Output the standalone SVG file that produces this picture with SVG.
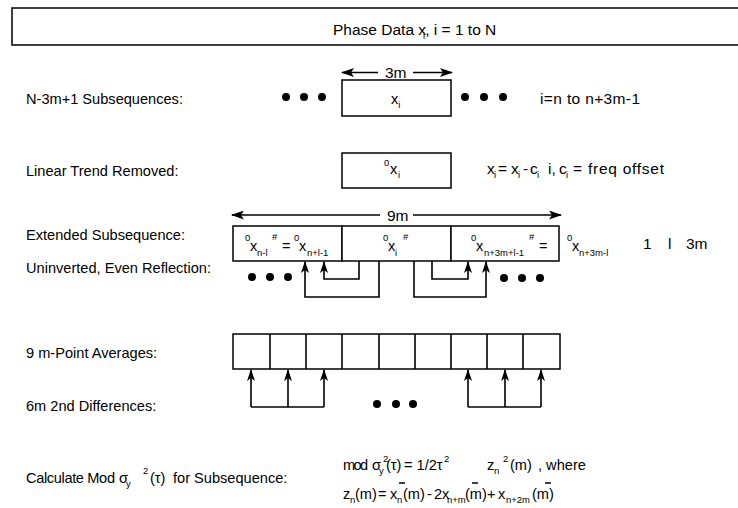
<svg xmlns="http://www.w3.org/2000/svg" width="738" height="508" viewBox="0 0 738 508">
<defs>
<style>
.t{font-family:"Liberation Sans",Arial,sans-serif;font-size:14.6px;fill:#000}
.r{font-size:15.5px}
.s{font-size:9.5px}
.box{fill:#fff;stroke:#000;stroke-width:1.5}
.ln{fill:none;stroke:#000;stroke-width:1.6}
.dot{fill:#000}
</style>
<marker id="ah" markerWidth="13" markerHeight="9" refX="12" refY="4.5" orient="auto" markerUnits="userSpaceOnUse"><path d="M0,0 L13,4.5 L0,9 L3,4.5 Z" fill="#000"/></marker>
<marker id="au" markerWidth="12" markerHeight="8" refX="11" refY="4" orient="auto" markerUnits="userSpaceOnUse"><path d="M0,0 L12,4 L0,8 L3,4 Z" fill="#000"/></marker>
</defs>
<rect width="738" height="508" fill="#fff"/>

<g id="phase-data">
<rect class="box" x="12" y="8" width="730" height="37"/>
<text class="t r" x="333" y="35">Phase Data x<tspan class="s" dx="-3" dy="4">i</tspan><tspan dy="-4">, i = 1 to N</tspan></text>
</g>

<g id="labels">
<text class="t" x="26" y="104">N-3m+1 Subsequences:</text>
<text class="t" x="26" y="176">Linear Trend Removed:</text>
<text class="t" x="26" y="240">Extended Subsequence:</text>
<text class="t" x="26" y="273">Uninverted, Even Reflection:</text>
<text class="t" x="26" y="358">9 m-Point Averages:</text>
<text class="t" x="26" y="411">6m 2nd Differences:</text>
<text class="t"><tspan x="26" y="483" textLength="89">Calculate Mod</tspan><tspan x="119">σ</tspan><tspan class="s" x="126" y="487">y</tspan><tspan class="s" x="143" y="474">2</tspan><tspan x="150" y="483">(τ)</tspan><tspan x="173">for Subsequence:</tspan></text>
</g>

<g id="subsequence">
<rect class="box" x="342" y="80" width="109" height="36"/>
<text class="t" x="391" y="104">x<tspan class="s" dy="4">i</tspan></text>
<text class="t r" x="540" y="104" textLength="100">i=n to n+3m-1</text>
</g>

<g id="trend-removed">
<rect class="box" x="342" y="153" width="109" height="35"/>
<text class="t"><tspan class="s" x="384" y="166">0</tspan><tspan x="390" y="174">x</tspan><tspan class="s" x="398" y="178">i</tspan></text>
<text class="t r"><tspan x="487" y="174">x</tspan><tspan class="s" x="494" y="178">i</tspan><tspan x="498" y="174">=</tspan><tspan x="511" y="174">x</tspan><tspan class="s" x="518" y="178">i</tspan><tspan x="523" y="174">-</tspan><tspan x="530" y="174">c</tspan><tspan class="s" x="537" y="178">i</tspan><tspan x="548" y="174">i,</tspan><tspan x="559" y="174">c</tspan><tspan class="s" x="566" y="178">i</tspan><tspan x="573" y="174">=</tspan><tspan x="588" y="174" textLength="76">freq offset</tspan></text>
</g>

<g id="extended-left">
<rect class="box" x="233" y="226" width="109" height="35"/>
<text class="t"><tspan class="s" x="245" y="241">0</tspan><tspan x="250" y="251">x</tspan><tspan class="s" x="257" y="256">n-l</tspan><tspan class="s" x="272" y="240">#</tspan><tspan x="282" y="251">=</tspan><tspan class="s" x="294" y="241">0</tspan><tspan x="299" y="251">x</tspan><tspan class="s" x="307" y="256">n+l-1</tspan></text>
</g>
<g id="extended-center">
<rect class="box" x="342" y="226" width="109" height="35"/>
<text class="t"><tspan class="s" x="383" y="241">0</tspan><tspan x="388" y="251">x</tspan><tspan class="s" x="395" y="256">i</tspan><tspan class="s" x="403" y="240">#</tspan></text>
</g>
<g id="extended-right">
<rect class="box" x="451" y="226" width="108" height="35"/>
<text class="t"><tspan class="s" x="471" y="241">0</tspan><tspan x="476" y="251">x</tspan><tspan class="s" x="484" y="256">n+3m+l-1</tspan><tspan class="s" x="529" y="240">#</tspan><tspan x="539" y="251">=</tspan></text>
</g>
<g id="extended-note">
<text class="t"><tspan class="s" x="567" y="241">0</tspan><tspan x="572" y="251">x</tspan><tspan class="s" x="579" y="256">n+3m-l</tspan><tspan class="r" x="643" y="249">1</tspan><tspan class="r" x="668" y="249">l</tspan><tspan class="r" x="686" y="249">3m</tspan></text>
</g>

<g id="averages">
<rect class="box" x="233" y="334" width="327" height="35"/>
<path class="ln" d="M270,334V369M306,334V369M342,334V369M379,334V369M415,334V369M451,334V369M487,334V369M523,334V369"/>
</g>

<g id="formula">
<text class="t"><tspan x="343" y="470" textLength="25">mod</tspan><tspan x="372" y="470">σ</tspan><tspan class="s" x="379" y="474">y</tspan><tspan class="s" x="383" y="462">2</tspan><tspan x="386" y="470">(τ)</tspan><tspan x="404" y="470">= 1/2τ</tspan><tspan class="s" x="444" y="462">2</tspan><tspan x="487" y="470">z</tspan><tspan class="s" x="494" y="474">n</tspan><tspan class="s" x="503" y="462">2</tspan><tspan x="510" y="470">(m)</tspan><tspan x="538" y="470">, where</tspan></text>
<text class="t"><tspan x="343" y="499">z</tspan><tspan class="s" x="350" y="503">n</tspan><tspan x="355" y="499">(m)</tspan><tspan x="378" y="499">=</tspan><tspan x="390" y="499">x</tspan><tspan class="s" x="397" y="503">n</tspan><tspan x="403" y="499">(m)</tspan><tspan x="427" y="499">-</tspan><tspan x="434" y="499">2x</tspan><tspan class="s" x="447" y="503">n+m</tspan><tspan x="465" y="499">(m)</tspan><tspan x="487" y="499">+</tspan><tspan x="498" y="499">x</tspan><tspan class="s" x="506" y="503">n+2m</tspan><tspan x="532" y="499">(m)</tspan></text>
<path class="ln" stroke-width="1" d="M399,483H405M472,483H478M545,483H551"/>
</g>

<g id="connectors">
<line class="ln" x1="378" y1="72.5" x2="342" y2="72.5" marker-end="url(#ah)"/>
<line class="ln" x1="413" y1="72.5" x2="452" y2="72.5" marker-end="url(#ah)"/>
<text class="t r" x="385" y="78">3m</text>
<line class="ln" x1="380" y1="215" x2="232" y2="215" marker-end="url(#ah)"/>
<line class="ln" x1="413" y1="215" x2="561" y2="215" marker-end="url(#ah)"/>
<text class="t r" x="387" y="221">9m</text>
<path class="ln" d="M379,261V297H305V262" marker-end="url(#au)"/>
<path class="ln" d="M359,261V279H324V262" marker-end="url(#au)"/>
<path class="ln" d="M414,261V297H486V262" marker-end="url(#au)"/>
<path class="ln" d="M432,261V279H468V262" marker-end="url(#au)"/>
<path class="ln" d="M251,407H324"/>
<path class="ln" d="M251,407V370" marker-end="url(#au)"/>
<path class="ln" d="M288,407V370" marker-end="url(#au)"/>
<path class="ln" d="M324,407V370" marker-end="url(#au)"/>
<path class="ln" d="M468,407H541"/>
<path class="ln" d="M468,407V370" marker-end="url(#au)"/>
<path class="ln" d="M505,407V370" marker-end="url(#au)"/>
<path class="ln" d="M541,407V370" marker-end="url(#au)"/>
</g>

<g id="ellipses">
<circle class="dot" cx="286" cy="97" r="4"/><circle class="dot" cx="304" cy="97" r="4"/><circle class="dot" cx="322" cy="97" r="4"/>
<circle class="dot" cx="465" cy="97" r="4"/><circle class="dot" cx="484" cy="97" r="4"/><circle class="dot" cx="503" cy="97" r="4"/>
<circle class="dot" cx="252" cy="277" r="4"/><circle class="dot" cx="270" cy="277" r="4"/><circle class="dot" cx="288" cy="277" r="4"/>
<circle class="dot" cx="504" cy="278" r="4"/><circle class="dot" cx="522" cy="278" r="4"/><circle class="dot" cx="540" cy="278" r="4"/>
<circle class="dot" cx="377" cy="404" r="4"/><circle class="dot" cx="396" cy="404" r="4"/><circle class="dot" cx="413" cy="404" r="4"/>
</g>
</svg>
